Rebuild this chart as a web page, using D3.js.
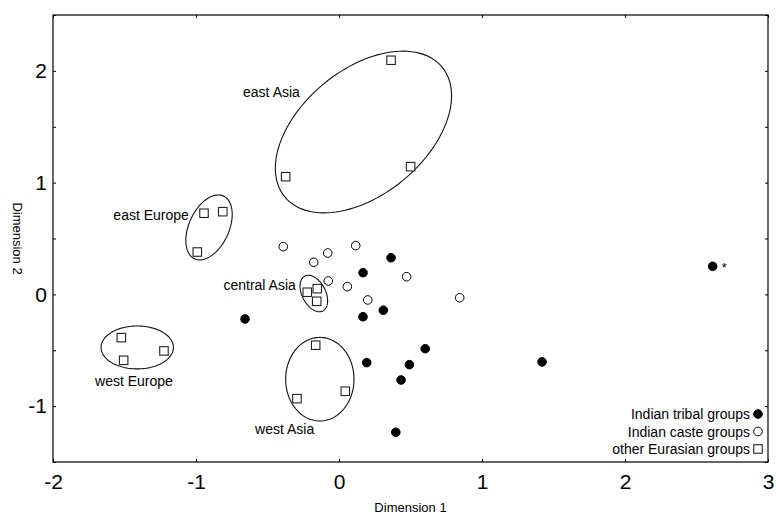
<!DOCTYPE html>
<html>
<head>
<meta charset="utf-8">
<script src="https://cdn.jsdelivr.net/npm/d3@7"></script>
<style>
    body { margin: 0; background: white; }
    text { font-family: Arial, "Liberation Sans", sans-serif; fill: black; }
</style>
</head>
<body>
<svg width="776" height="515"></svg>
<script>
const width = 776
const height = 515
const margin = { top: 15, right: 8, bottom: 53, left: 53 }

const x_domain = [-2, 3]
const y_domain = [-1.5, 2.5]
const x_ticks = [-2, -1, 0, 1, 2, 3]
const y_ticks = [-1, 0, 1, 2]
const y_minor_ticks = [-1.5, -1, -0.5, 0, 0.5, 1, 1.5, 2, 2.5]

// Indian tribal groups (filled circles)
const tribal_x = [0.364, 0.168, -0.657, 0.168, 0.310, 0.603, 0.194, 0.492, 0.434, 0.397, 1.420, 2.613]
const tribal_y = [0.328, 0.194, -0.220, -0.200, -0.142, -0.486, -0.611, -0.629, -0.766, -1.234, -0.604, 0.251]

// Indian caste groups (open circles)
const caste_x = [-0.390, -0.177, -0.079, 0.117, -0.075, 0.058, 0.201, 0.473, 0.844]
const caste_y = [0.427, 0.287, 0.370, 0.436, 0.120, 0.069, -0.050, 0.158, -0.030]

// other Eurasian groups (open squares)
const eurasian_x = [0.364, -0.373, 0.501, -0.944, -0.813, -0.991, -1.522, -1.506, -1.224, -0.222, -0.152, -0.156, -0.163, -0.294, 0.044]
const eurasian_y = [2.095, 1.053, 1.143, 0.726, 0.740, 0.379, -0.387, -0.590, -0.506, 0.019, 0.051, -0.062, -0.455, -0.933, -0.867]

// region ellipses: centre plus two semi-axis vectors, all in data units
const region_names = ["east Asia", "east Europe", "central Asia", "west Europe", "west Asia"]
const region_centers = [[0.171, 1.453], [-0.909, 0.599], [-0.176, 0.008], [-1.411, -0.475], [-0.134, -0.759]]
const region_axis_u = [[0.550, 0.581], [0.101, 0.281], [0.063, -0.156], [0.253, 0], [0.239, 0]]
const region_axis_v = [[0.278, -0.431], [0.127, -0.075], [-0.073, -0.048], [0, -0.192], [0, -0.374]]
const region_label_at = [[-0.671, 1.766], [-1.578, 0.666], [-0.808, 0.039], [-1.706, -0.820], [-0.587, -1.249]]

const legend_labels = ["Indian tribal groups", "Indian caste groups", "other Eurasian groups"]
const legend_kinds = ["tribal", "caste", "eurasian"]

const marker_r = 4.3
const square_size = 8.5
const tick_len = 3

const zip = (xs, ys) => xs.map((x, i) => [x, ys[i]])

const svg = d3.select("svg")

const x = d3.scaleLinear().domain(x_domain).range([margin.left, width - margin.right])
const y = d3.scaleLinear().domain(y_domain).range([height - margin.bottom, margin.top])

// frame
svg.append("rect")
    .attr("x", x(x_domain[0]))
    .attr("y", y(y_domain[1]))
    .attr("width", x(x_domain[1]) - x(x_domain[0]))
    .attr("height", y(y_domain[0]) - y(y_domain[1]))
    .attr("fill", "none")
    .attr("stroke", "black")
    .attr("stroke-width", 1.2)

// axes with inward ticks, plain hyphen for negatives
const axis_bottom = svg.append("g")
    .attr("transform", `translate(0,${y(y_domain[0])})`)
    .call(d3.axisBottom(x).tickValues(x_ticks).tickSizeInner(-tick_len).tickSizeOuter(0).tickPadding(9).tickFormat(d => String(d)))
const axis_top = svg.append("g")
    .attr("transform", `translate(0,${y(y_domain[1])})`)
    .call(d3.axisTop(x).tickValues(x_ticks).tickSizeInner(-tick_len).tickSizeOuter(0).tickFormat(""))
const axis_left = svg.append("g")
    .attr("transform", `translate(${x(x_domain[0])},0)`)
    .call(d3.axisLeft(y).tickValues(y_minor_ticks).tickSizeInner(-tick_len).tickSizeOuter(0).tickPadding(6)
        .tickFormat(d => y_ticks.includes(d) ? String(d) : ""))
const axis_right = svg.append("g")
    .attr("transform", `translate(${x(x_domain[1])},0)`)
    .call(d3.axisRight(y).tickValues(y_minor_ticks).tickSizeInner(-tick_len).tickSizeOuter(0).tickFormat(""))

for (const g of [axis_bottom, axis_top, axis_left, axis_right]) {
    g.select(".domain").remove()
    g.selectAll("line").attr("stroke", "black")
    g.selectAll("text")
        .attr("font-family", "Arial, 'Liberation Sans', sans-serif")
        .attr("font-size", 21)
        .attr("fill", "black")
}
axis_bottom.selectAll("text").attr("dy", "0.85em")

svg.append("text")
    .attr("x", (x(x_domain[0]) + x(x_domain[1])) / 2)
    .attr("y", 512)
    .attr("text-anchor", "middle")
    .attr("font-size", 13)
    .text("Dimension 1")

svg.append("text")
    .attr("transform", `translate(13,${(y(y_domain[0]) + y(y_domain[1])) / 2}) rotate(90)`)
    .attr("text-anchor", "middle")
    .attr("font-size", 13)
    .text("Dimension 2")

// ellipses
const ellipse_path = (i) => {
    const c = region_centers[i], u = region_axis_u[i], v = region_axis_v[i]
    const pts = d3.range(0, 121).map(k => {
        const t = k / 120 * 2 * Math.PI
        return [x(c[0] + u[0] * Math.cos(t) + v[0] * Math.sin(t)), y(c[1] + u[1] * Math.cos(t) + v[1] * Math.sin(t))]
    })
    return d3.line().curve(d3.curveLinearClosed)(pts)
}

svg.append("g").selectAll("path")
    .data(region_names)
    .enter()
    .append("path")
    .attr("d", (d, i) => ellipse_path(i))
    .attr("fill", "none")
    .attr("stroke", "#111")
    .attr("stroke-width", 1.1)

svg.append("g").selectAll("text")
    .data(region_names)
    .enter()
    .append("text")
    .attr("x", (d, i) => x(region_label_at[i][0]))
    .attr("y", (d, i) => y(region_label_at[i][1]))
    .attr("font-size", 14)
    .text(d => d)

// points
const draw_marker = (sel, kind) => {
    if (kind === "eurasian") {
        sel.append("rect")
            .attr("x", -square_size / 2)
            .attr("y", -square_size / 2)
            .attr("width", square_size)
            .attr("height", square_size)
            .attr("fill", "white")
            .attr("stroke", "#222")
            .attr("stroke-width", 1.1)
    } else {
        sel.append("circle")
            .attr("r", marker_r)
            .attr("fill", kind === "tribal" ? "black" : "white")
            .attr("stroke", "black")
            .attr("stroke-width", 1)
    }
}

const series = [["caste", zip(caste_x, caste_y)], ["eurasian", zip(eurasian_x, eurasian_y)], ["tribal", zip(tribal_x, tribal_y)]]
for (const [kind, pts] of series) {
    svg.append("g").selectAll("g")
        .data(pts)
        .enter()
        .append("g")
        .attr("transform", p => `translate(${x(p[0])},${y(p[1])})`)
        .call(sel => draw_marker(sel, kind))
}

// asterisk next to the outlying tribal point
const outlier = d3.maxIndex(tribal_x)
svg.append("text")
    .attr("x", x(tribal_x[outlier]) + 9)
    .attr("y", y(tribal_y[outlier]) + 6)
    .attr("font-size", 13)
    .text("*")

// legend
const legend = svg.append("g").selectAll("g")
    .data(legend_labels)
    .enter()
    .append("g")
    .attr("transform", (d, i) => `translate(758,${414 + i * 17.5})`)

legend.append("text")
    .attr("x", -8)
    .attr("y", 5)
    .attr("text-anchor", "end")
    .attr("font-size", 14)
    .text(d => d)

legend.each(function (d, i) { draw_marker(d3.select(this), legend_kinds[i]) })
</script>
</body>
</html>
